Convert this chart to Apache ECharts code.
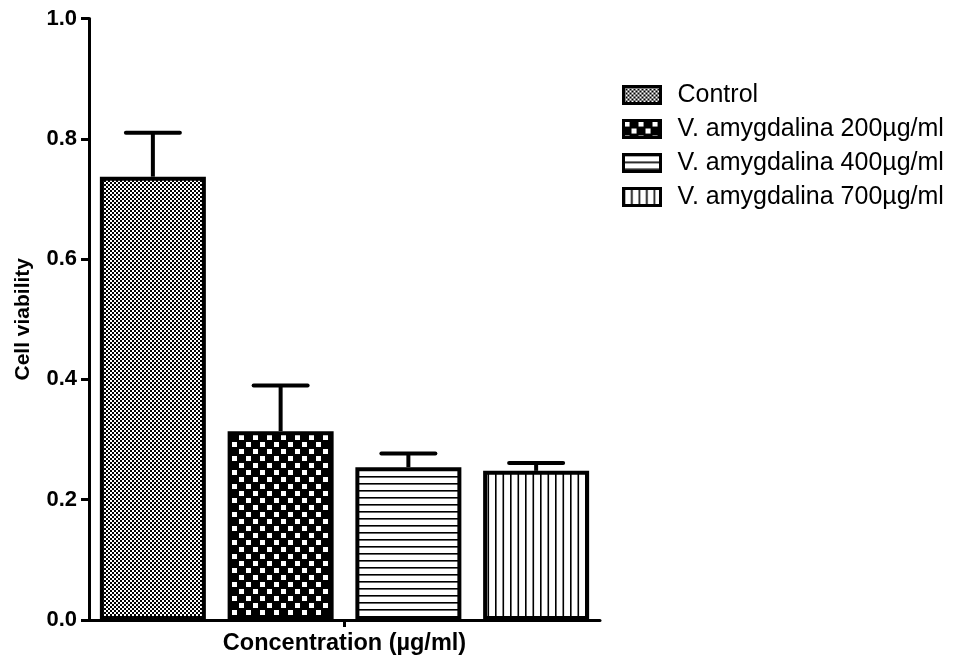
<!DOCTYPE html>
<html>
<head>
<meta charset="utf-8">
<script src="https://cdn.jsdelivr.net/npm/echarts@6/dist/echarts.min.js"></script>
<style>html,body{margin:0;padding:0;background:#fff;}#chart{width:953px;height:660px;}</style>
</head>
<body>
<div id="chart"></div>
<script>
const categories = ['Control', 'V. amygdalina 200µg/ml', 'V. amygdalina 400µg/ml', 'V. amygdalina 700µg/ml'];
const means = [0.737, 0.314, 0.254, 0.248];
const upperErrors = [0.073, 0.076, 0.023, 0.013];
const yTickValues = [0, 0.2, 0.4, 0.6, 0.8, 1.0];
const xAxisTitle = 'Concentration (µg/ml)';
const yAxisTitle = 'Cell viability';

function makeTile(w, h, draw) {
  const c = document.createElement('canvas');
  c.width = w; c.height = h;
  const ctx = c.getContext('2d');
  ctx.fillStyle = '#fff';
  ctx.fillRect(0, 0, w, h);
  ctx.fillStyle = '#000';
  draw(ctx);
  return { image: c, repeat: 'repeat' };
}
const patterns = [
  makeTile(4, 4, ctx => { ctx.fillRect(0, 0, 2, 2); ctx.fillRect(2, 2, 2, 2); }),
  makeTile(14, 14, ctx => {
    ctx.fillRect(0, 0, 14, 14);
    ctx.fillStyle = '#fff';
    ctx.fillRect(1, 1, 5, 5); ctx.fillRect(8, 8, 5, 5);
  }),
  makeTile(8, 7, ctx => { ctx.fillRect(0, 0, 8, 1.6); }),
  makeTile(15, 8, ctx => { ctx.fillRect(0, 0, 1.6, 8); ctx.fillRect(7.5, 0, 1.6, 8); })
];

const font = '"Liberation Sans", Arial, Helvetica, sans-serif';

const barSeries = categories.map((name, i) => ({
  name: name,
  type: 'bar',
  xAxisIndex: 0,
  barWidth: 106,
  barGap: '-100%',
  data: categories.map((c, j) => j === i ? means[i] : '-'),
  itemStyle: { color: patterns[i], borderColor: '#000', borderWidth: 4 },
  emphasis: { disabled: true },
  animation: false,
  z: 2
}));

const errData = means.map((m, i) => [i, m, m + upperErrors[i]]);

const option = {
  animation: false,
  grid: { left: 89, right: 353, top: 18.5, bottom: 40, containLabel: false, outerBoundsMode: 'none' },
  legend: {
    orient: 'vertical',
    left: 622,
    top: 82.5,
    padding: 0,
    itemWidth: 37,
    itemHeight: 17,
    itemGap: 9,
    icon: 'rect',
    data: categories,
    itemStyle: { borderColor: '#000', borderWidth: 3 },
    textStyle: { fontFamily: font, fontSize: 25, lineHeight: 25, color: '#000', padding: [0, 0, 0, 12] },
    selectedMode: false
  },
  xAxis: [
    {
      type: 'category',
      data: categories,
      show: false,
      boundaryGap: true
    },
    {
      type: 'category',
      data: [''],
      position: 'bottom',
      axisLine: { show: true, lineStyle: { color: '#000', width: 3 } },
      axisTick: { show: true, alignWithLabel: true, length: 7, lineStyle: { color: '#000', width: 3 } },
      axisLabel: { show: false },
      name: xAxisTitle,
      nameLocation: 'middle',
      nameGap: 12,
      nameTextStyle: { fontFamily: font, fontWeight: 'bold', fontSize: 23.5, color: '#000', verticalAlign: 'top' }
    }
  ],
  yAxis: {
    type: 'value',
    min: 0,
    max: 1,
    interval: 0.2,
    axisLine: { show: true, lineStyle: { color: '#000', width: 3 } },
    axisTick: { show: true, length: 8, lineStyle: { color: '#000', width: 3 } },
    axisLabel: {
      fontFamily: font, fontWeight: 'bold', fontSize: 22, color: '#000', margin: 12,
      formatter: v => yTickValues.some(t => Math.abs(t - v) < 1e-9) ? v.toFixed(1) : ''
    },
    splitLine: { show: false },
    name: yAxisTitle,
    nameLocation: 'middle',
    nameGap: 66,
    nameTextStyle: { fontFamily: font, fontWeight: 'bold', fontSize: 21, color: '#000', verticalAlign: 'middle' }
  },
  series: barSeries.concat([{
    type: 'custom',
    xAxisIndex: 0,
    data: errData,
    z: 1,
    silent: true,
    renderItem: function (params, api) {
      const base = api.coord([api.value(0), api.value(1)]);
      const top = api.coord([api.value(0), api.value(2)]);
      const half = 27;
      const st = { stroke: '#000', lineWidth: 4, lineCap: 'round' };
      return {
        type: 'group',
        children: [
          { type: 'line', shape: { x1: base[0], y1: base[1], x2: top[0], y2: top[1] }, style: { stroke: '#000', lineWidth: 4 } },
          { type: 'line', shape: { x1: top[0] - half, y1: top[1], x2: top[0] + half, y2: top[1] }, style: st }
        ]
      };
    }
  }])
};

const chart = echarts.init(document.getElementById('chart'), null, { renderer: 'canvas' });
chart.setOption(option);
</script>
</body>
</html>
